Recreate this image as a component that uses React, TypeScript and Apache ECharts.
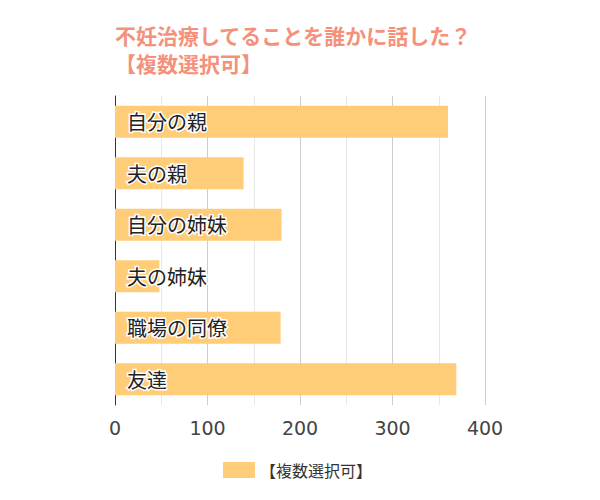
import * as echarts from 'echarts';
import React, { useEffect, useRef } from 'react';

const categories = ['自分の親', '夫の親', '自分の姉妹', '夫の姉妹', '職場の同僚', '友達'];
const values = [360, 139, 180, 48, 179, 369];
const seriesName = '【複数選択可】';
const titleText = '不妊治療してることを誰かに話した？\n【複数選択可】';

const App: React.FC = () => {
  const chartRef = useRef<HTMLDivElement>(null);

  useEffect(() => {
    document.body.style.margin = '0';
    const myChart = echarts.init(chartRef.current!, undefined, { renderer: 'svg' });

    const option = {
      animation: false,
      title: {
        text: titleText,
        left: 110,
        top: 16,
        textStyle: {
          color: '#F5907A',
          fontSize: 21,
          fontWeight: 'bold',
          lineHeight: 28,
          fontFamily: 'Noto Sans CJK JP',
        },
      },
      legend: {
        data: [seriesName],
        left: 218,
        top: 457,
        icon: 'rect',
        itemWidth: 32,
        itemHeight: 16,
        itemGap: 10,
        textStyle: { fontSize: 16, color: '#333', fontFamily: 'Noto Sans CJK JP' },
      },
      grid: { left: 115, right: 115, top: 96, bottom: 95 },
      xAxis: {
        type: 'value',
        min: 0,
        max: 400,
        interval: 100,
        axisLine: { show: false },
        axisTick: { show: false },
        axisLabel: { fontSize: 19, color: '#444', margin: 13, fontFamily: 'DejaVu Sans' },
        splitLine: { lineStyle: { color: '#ccc' } },
        minorTick: { show: false, splitNumber: 2 },
        minorSplitLine: { show: true, lineStyle: { color: '#e8e8e8' } },
      },
      yAxis: {
        type: 'category',
        inverse: true,
        data: categories,
        axisLine: { show: true, lineStyle: { color: '#333' } },
        axisTick: { show: false },
        axisLabel: { show: false },
      },
      series: [
        {
          name: seriesName,
          type: 'bar',
          data: values,
          barWidth: '62%',
          itemStyle: { color: '#FFCC77' },
          label: {
            show: true,
            position: 'insideLeft',
            distance: 12,
            formatter: '{b}',
            color: '#222',
            fontSize: 20,
            fontFamily: 'Noto Sans CJK JP',
            textBorderColor: '#fff',
            textBorderWidth: 3,
          },
        },
      ],
    };

    myChart.setOption(option);

    return () => {
      myChart.dispose();
    };
  }, []);

  return <div ref={chartRef} style={{ width: '600px', height: '500px' }} />;
};

export default App;
